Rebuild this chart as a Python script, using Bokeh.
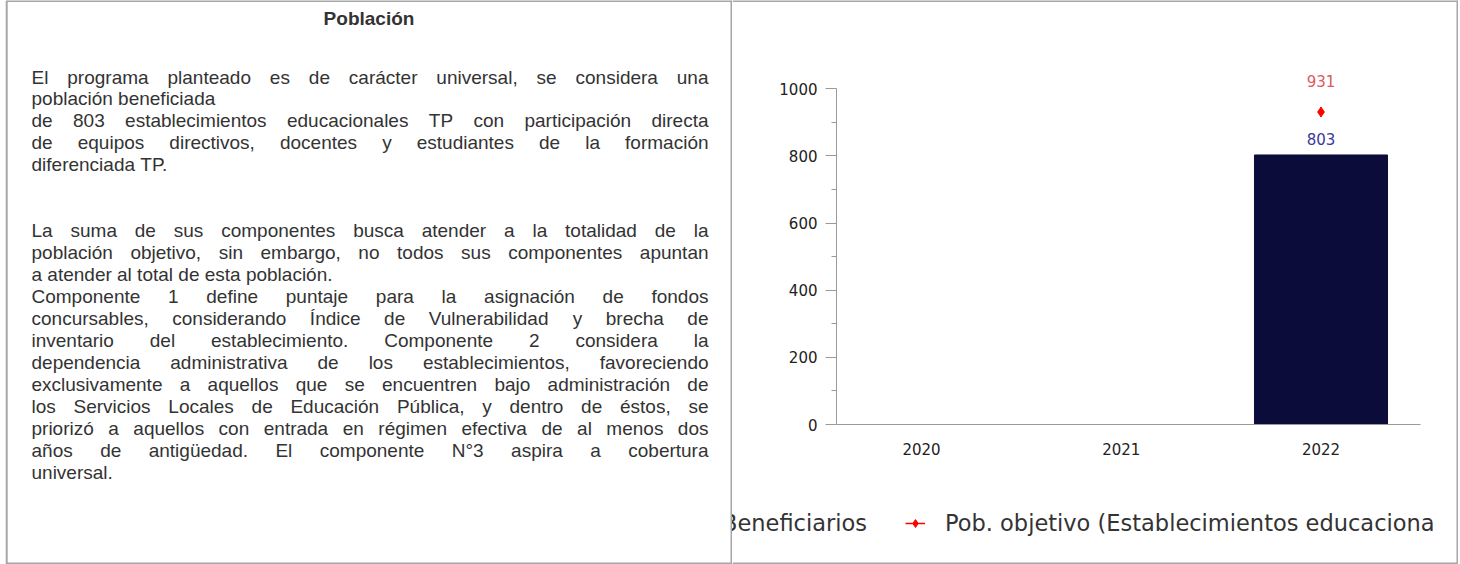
import math
from bokeh.plotting import figure
from bokeh.models import Range1d, FixedTicker, Legend, LegendItem, ColumnDataSource, LinearAxis
from bokeh.layouts import row
from bokeh.embed import file_html
from bokeh.resources import INLINE
from bokeh.core.properties import value

# ---------------- data ----------------
title_text = "Población"
paragraph_1 = [
    "El programa planteado es de carácter universal, se considera una",
    "población beneficiada",
    "de 803 establecimientos educacionales TP con participación directa",
    "de equipos directivos, docentes y estudiantes de la formación",
    "diferenciada TP.",
]
paragraph_1_justified = [True, False, True, True, False]
paragraph_2 = [
    "La suma de sus componentes busca atender a la totalidad de la",
    "población objetivo, sin embargo, no todos sus componentes apuntan",
    "a atender al total de esta población.",
    "Componente 1 define puntaje para la asignación de fondos",
    "concursables, considerando Índice de Vulnerabilidad y brecha de",
    "inventario del establecimiento. Componente 2 considera la",
    "dependencia administrativa de los establecimientos, favoreciendo",
    "exclusivamente a aquellos que se encuentren bajo administración de",
    "los Servicios Locales de Educación Pública, y dentro de éstos, se",
    "priorizó a aquellos con entrada en régimen efectiva de al menos dos",
    "años de antigüedad. El componente N°3 aspira a cobertura",
    "universal.",
]
paragraph_2_justified = [True, True, False, True, True, True, True, True, True, True, True, False]

years = ["2020", "2021", "2022"]
beneficiarios = [float("nan"), float("nan"), 803]
pob_objetivo = [float("nan"), float("nan"), 931]
legend_beneficiarios = "Beneficiarios"
legend_pob_objetivo = "Pob. objetivo (Establecimientos educaciona"
y_major_ticks = [0, 200, 400, 600, 800, 1000]
y_minor_ticks = [100, 300, 500, 700, 900]

# ---------------- text metrics (Arial / Liberation Sans, per 1000 em) ----------------
ARIAL = {" ": 278, ",": 278, ".": 278, "°": 400, "(": 333, ")": 333}
for ch in "0123456789":
    ARIAL[ch] = 556
for ch, w in zip("abcdefghijklmnopqrstuvwxyz",
                 [556, 556, 500, 556, 556, 278, 556, 556, 222, 222, 500, 222, 833,
                  556, 556, 556, 556, 333, 500, 278, 556, 500, 722, 500, 500, 500]):
    ARIAL[ch] = w
for ch, w in zip("ABCDEFGHIJKLMNOPQRSTUVWXYZ",
                 [667, 667, 722, 722, 667, 611, 778, 722, 278, 500, 667, 556, 833,
                  722, 778, 667, 778, 722, 667, 611, 722, 667, 944, 667, 667, 611]):
    ARIAL[ch] = w
for ch in "áéóúüñ":
    ARIAL[ch] = 556
ARIAL["í"] = 278
ARIAL["Í"] = 278

FONT_PX = 19
LINE_H = 21.95
TEXT_LEFT = 31
TEXT_RIGHT = 708
FIRST_BASE = 76.5
TITLE_BASE = 18.0


def tw(s):
    return sum(ARIAL.get(c, 556) for c in s) * FONT_PX / 1000.0


wx, wy, wt = [], [], []
lines = [(t, j, k) for k, (t, j) in enumerate(zip(paragraph_1, paragraph_1_justified))]
lines += [(t, j, k + len(paragraph_1) + 2) for k, (t, j) in enumerate(zip(paragraph_2, paragraph_2_justified))]
for text, just, k in lines:
    words = text.split(" ")
    widths = [tw(w) for w in words]
    if just and len(words) > 1:
        gap = (TEXT_RIGHT - TEXT_LEFT - sum(widths)) / (len(words) - 1)
    else:
        gap = tw(" ")
    x = TEXT_LEFT
    for w, wd in zip(words, widths):
        wx.append(x)
        wy.append(FIRST_BASE + k * LINE_H)
        wt.append(w)
        x += wd + gap

BORDER = "#a6a6a6"
LEFT_W, RIGHT_W, H = 732, 726, 564

# ---------------- left cell ----------------
left = figure(width=LEFT_W, height=H, x_range=Range1d(0, LEFT_W), y_range=Range1d(H, 0),
              output_backend="svg", toolbar_location=None,
              x_axis_type=None, y_axis_type=None, min_border=0)
left.outline_line_color = None
left.grid.visible = False

left.segment(x0=[6, 6, 6.2, 731], y0=[0.5, 563, 0, 0], x1=[LEFT_W, LEFT_W, 6.2, 731], y1=[0.5, 563, H, H],
             line_color=BORDER, line_width=2)

left.text(x=[368.5], y=[TITLE_BASE], text=[title_text], text_font=value("Liberation Sans"),
          text_font_size="19px", text_font_style="bold", text_align="center",
          text_baseline="alphabetic", text_color="#333333")
left.text(x=wx, y=wy, text=wt, text_font=value("Liberation Sans"), text_font_size=f"{FONT_PX}px",
          text_align="left", text_baseline="alphabetic", text_color="#333333")

# ---------------- right cell : chart ----------------
# chart geometry inside the right cell (pixels from the cell's left / top edge)
CAT_C0, CAT_STEP = 189.0, 199.75     # centre of first category, category pitch
AX_L, AX_R = 104.0, 688.0            # y axis position, end of x axis
Y0_PX, PX_PER_UNIT = 424.0, 0.33565  # pixel row of value 0, pixels per unit

xr = Range1d(-CAT_C0 / CAT_STEP, (RIGHT_W - CAT_C0) / CAT_STEP)
yr = Range1d(-(H - Y0_PX) / PX_PER_UNIT, Y0_PX / PX_PER_UNIT)

xi = list(range(len(years)))
src = ColumnDataSource(dict(x=xi, ben=beneficiarios, pob=pob_objetivo))

chart = figure(width=RIGHT_W, height=H, x_range=xr, y_range=yr,
               output_backend="svg", toolbar_location=None,
               x_axis_type=None, y_axis_type=None, min_border=0)
chart.outline_line_color = None
chart.grid.visible = False
chart.extra_x_ranges = {"px": Range1d(0, RIGHT_W)}
chart.extra_y_ranges = {"px": Range1d(H, 0)}

# cell border (top, right, bottom)
chart.segment(x0=[0, 0, 725], y0=[0.5, 563, 0], x1=[RIGHT_W, RIGHT_W, 725], y1=[0.5, 563, H],
              line_color=BORDER, line_width=2, x_range_name="px", y_range_name="px")

bars = chart.vbar(x="x", top="ben", width=0.666, source=src, fill_color="#0b0c3a", line_color="#0b0c3a")
line_r = chart.line(x="x", y="pob", source=src, line_color="#ff0000", line_width=1.5)
pts = chart.scatter(x="x", y="pob", source=src, marker="diamond", size=10,
                    fill_color="#ff0000", line_color="#ff0000")

bx = [x for x, v in zip(xi, beneficiarios) if not math.isnan(v)]
bv = [v for v in beneficiarios if not math.isnan(v)]
px_ = [x for x, v in zip(xi, pob_objetivo) if not math.isnan(v)]
pv = [v for v in pob_objetivo if not math.isnan(v)]
chart.text(x=bx, y=bv, text=[f"{v:.0f}" for v in bv], y_offset=-15.5, text_align="center",
           text_baseline="middle", text_font=value("DejaVu Sans"), text_font_size="15px",
           text_color="#3a3a98")
chart.text(x=px_, y=pv, text=[f"{v:.0f}" for v in pv], y_offset=-31.5, text_align="center",
           text_baseline="middle", text_font=value("DejaVu Sans"), text_font_size="15px",
           text_color="#dc5a62")

x_axis_start = (AX_L - CAT_C0) / CAT_STEP
x_axis_end = (AX_R - CAT_C0) / CAT_STEP

xa = LinearAxis(fixed_location=0, bounds=(x_axis_start, x_axis_end),
                ticker=FixedTicker(ticks=xi, minor_ticks=[]),
                major_label_overrides={i: y for i, y in zip(xi, years)})
xa.major_tick_line_color = None
xa.minor_tick_line_color = None
xa.major_tick_out = 0
xa.major_tick_in = 0
xa.major_label_standoff = 18
xa.axis_line_color = "#9a9a9a"
xa.major_label_text_font = "DejaVu Sans"
xa.major_label_text_font_size = "15px"
xa.major_label_text_color = "#222222"
chart.add_layout(xa, "below")

ya = LinearAxis(fixed_location=x_axis_start, bounds=(0, 1000),
                ticker=FixedTicker(ticks=y_major_ticks, minor_ticks=y_minor_ticks))
ya.major_tick_out = 11
ya.major_tick_in = 0
ya.minor_tick_out = 5
ya.minor_tick_in = 0
ya.axis_line_color = "#9a9a9a"
ya.major_tick_line_color = "#9a9a9a"
ya.minor_tick_line_color = "#9a9a9a"
ya.major_label_standoff = 8
ya.major_label_text_font = "DejaVu Sans"
ya.major_label_text_font_size = "15px"
ya.major_label_text_color = "#222222"
chart.add_layout(ya, "left")

legend = Legend(items=[LegendItem(label=legend_beneficiarios, renderers=[bars]),
                       LegendItem(label=legend_pob_objetivo, renderers=[line_r, pts])],
                orientation="horizontal", location=(-50, 28),
                label_text_font="DejaVu Sans", label_text_font_size="22.5px", label_text_color="#333333",
                glyph_width=20, glyph_height=20, label_standoff=20, spacing=38,
                padding=0, margin=0, background_fill_alpha=0, border_line_alpha=0)
chart.add_layout(legend)

layout = row(left, chart)

open("out.html", "w").write(file_html(layout, INLINE))
